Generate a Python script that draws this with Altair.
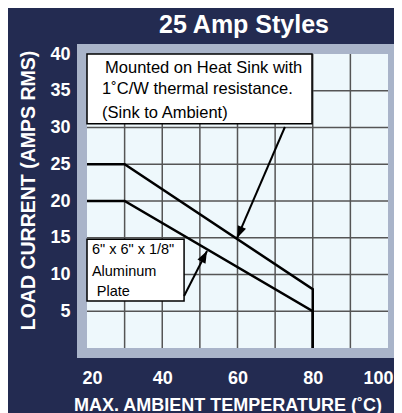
import altair as alt
import pandas as pd

# ---- data ----
temp_sink = [20, 30, 80, 80]          # heat-sink mounted curve (°C)
amps_sink = [25, 25, 8, 0]            # load current (A RMS)
temp_plate = [20, 30, 80, 80]         # aluminum plate curve (°C)
amps_plate = [20, 20, 5, 0]
x_tick_values = [20, 40, 60, 80, 100]
y_tick_values = [5, 10, 15, 20, 25, 30, 35, 40]
x_grid_values = [30, 40, 50, 60, 70, 80, 90]
y_grid_values = [5, 10, 15, 20, 25, 30, 35]
sink_note = ["Mounted on  Heat Sink with", "1˚C/W thermal resistance.", "(Sink to Ambient)"]
plate_note = ['6" x 6" x 1/8"', "Aluminum", "Plate"]
chart_title = "25 Amp Styles"

# ---- styling ----
FONT = "Liberation Sans"
NAVY = "#232b51"
FRAME = "#a9b4c9"
INNER = "#eef8fc"
GRID = "#555555"
W, H = 301, 294

xs = alt.Scale(domain=[20, 100], nice=False, zero=False)
ys = alt.Scale(domain=[0, 40], nice=False, zero=False)

x_axis = alt.Axis(values=x_tick_values, grid=False, domain=False, ticks=False, tickSize=0,
                  labelFont=FONT, labelFontSize=18, labelFontWeight="bold", labelColor="white",
                  labelPadding=35, labelBaseline="alphabetic",
                  labelFlush=True, labelFlushOffset=5,
                  title="MAX. AMBIENT TEMPERATURE (˚C)", titleFont=FONT, titleFontSize=18,
                  titleFontWeight="bold", titleColor="white", titleX=140.5, titleY=62,
                  titleAlign="center", titleBaseline="alphabetic", titleAnchor="start")
y_axis = alt.Axis(values=y_tick_values, grid=False, domain=False, ticks=False, tickSize=0,
                  labelFont=FONT, labelFontSize=18, labelFontWeight="bold", labelColor="white",
                  labelPadding=17, labelBaseline="middle", labelAlign="right",
                  title="LOAD CURRENT (AMPS RMS)", titleFont=FONT, titleFontSize=19.5,
                  titleFontWeight="bold", titleColor="white", titleAngle=270,
                  titleX=-59, titleY=136, titleAlign="center", titleBaseline="middle",
                  titleAnchor="start")


def X(field):
    return alt.X(field, scale=xs, axis=x_axis)


def Y(field):
    return alt.Y(field, scale=ys, axis=y_axis)


curves = pd.DataFrame({
    "temp": temp_sink + temp_plate,
    "amps": amps_sink + amps_plate,
    "series": ["sink"] * len(temp_sink) + ["plate"] * len(temp_plate),
    "order": list(range(len(temp_sink))) + list(range(len(temp_plate))),
})

# annotation layout (data coordinates)
boxes = pd.DataFrame({"x1": [20, 20], "x2": [79.8, 45.8], "y1": [30.5, 6.4], "y2": [40, 14.8]})
notes = pd.DataFrame({
    "text": sink_note + plate_note,
    "tx": [24.8, 24.0, 24.0, 21.3, 21.3, 22.6],
    "ty": [38.1, 35.2, 32.0, 13.3, 10.3, 7.6],
    "size": [16.5, 16.5, 16.5, 14.5, 14.5, 14.5],
})
arrows = pd.DataFrame({
    "x0": [72.6, 45.8], "y0": [30.07, 7.07],
    "x1": [59.9, 51.9], "y1": [14.97, 13.2],
    "angle": [203.4, 27.6],
})

frame = alt.Chart(pd.DataFrame({"k": [0]})).mark_rect(
    fill=INNER, stroke=FRAME, strokeWidth=10
).encode(x=alt.value(-5), x2=alt.value(W + 5), y=alt.value(-5), y2=alt.value(H + 5))

title_mark = alt.Chart(pd.DataFrame({"t": [chart_title]})).mark_text(
    font=FONT, fontSize=25, fontWeight="bold", color="white", align="center", baseline="alphabetic"
).encode(x=alt.value(157), y=alt.value(-21), text="t:N")

vgrid = alt.Chart(pd.DataFrame({"g": x_grid_values})).mark_rule(
    color=GRID, strokeWidth=1.5
).encode(x=X("g:Q"))

hgrid = alt.Chart(pd.DataFrame({"g": y_grid_values})).mark_rule(
    color=GRID, strokeWidth=1.5
).encode(y=Y("g:Q"))

lines = alt.Chart(curves).mark_line(color="black", strokeWidth=2.5).encode(
    x=X("temp:Q"),
    y=Y("amps:Q"),
    detail="series:N",
    order="order:Q",
)

box_marks = alt.Chart(boxes).mark_rect(fill="white", stroke="black", strokeWidth=1.5).encode(
    x=X("x1:Q"), x2="x2:Q",
    y=Y("y1:Q"), y2="y2:Q",
)

note_marks = alt.Chart(notes).mark_text(
    font=FONT, color="black", align="left", baseline="middle"
).encode(
    x=X("tx:Q"),
    y=Y("ty:Q"),
    text="text:N",
    size=alt.Size("size:Q", scale=None),
)

shafts = alt.Chart(arrows).mark_rule(color="black", strokeWidth=2).encode(
    x=X("x0:Q"), x2="x1:Q",
    y=Y("y0:Q"), y2="y1:Q",
)

heads = alt.Chart(arrows).mark_point(
    shape="M0,0L-0.75,2L0.75,2Z", filled=True, size=144, color="black", opacity=1
).encode(
    x=X("x1:Q"),
    y=Y("y1:Q"),
    angle=alt.Angle("angle:Q", scale=None),
)

chart = alt.layer(frame, title_mark, vgrid, hgrid, lines, box_marks, note_marks, shafts, heads).properties(
    width=W, height=H,
    autosize=alt.AutoSizeParams(type="none"),
    padding={"left": 79, "top": 46, "right": 6, "bottom": 65},
    background=NAVY,
).configure_view(strokeWidth=0)

chart.save("out.html", embed_options={"renderer": "svg", "actions": False})
